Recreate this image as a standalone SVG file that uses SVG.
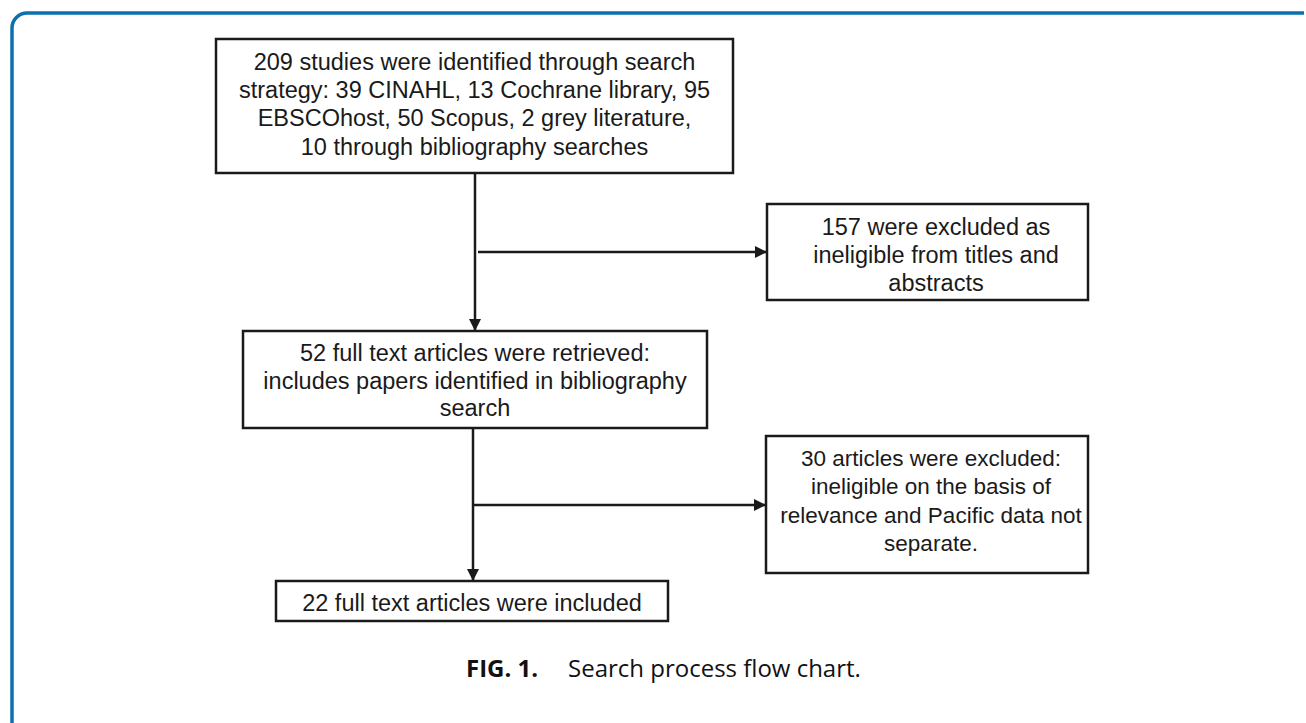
<svg xmlns="http://www.w3.org/2000/svg" width="1306" height="723" viewBox="0 0 1306 723">
<style>
.box{fill:#fff;stroke:#1a1a1a;stroke-width:2.5}
.t{font-family:"Liberation Sans",Arial,sans-serif;font-size:23.5px;fill:#1a1a1a;text-anchor:middle}
.ln{fill:none;stroke:#1a1a1a;stroke-width:2.5}
.cap{font-family:"Open Sans","Noto Sans",sans-serif;font-size:24px;fill:#111}
</style>
<defs>
<marker id="ah" markerWidth="12" markerHeight="12" refX="11" refY="6" orient="auto" markerUnits="userSpaceOnUse" viewBox="0 0 12 12">
<path d="M0,0 L12,6 L0,12 z" fill="#1a1a1a"/>
</marker>
</defs>
<rect width="1306" height="723" fill="#fff"/>
<path d="M12,730 L12,28 A15,15 0 0 1 27,13 L1304,13" fill="none" stroke="#0a71ae" stroke-width="3.5"/>
<g id="connectors">
<line class="ln" x1="475" y1="173" x2="475" y2="330" marker-end="url(#ah)"/>
<line class="ln" x1="478" y1="252" x2="766" y2="252" marker-end="url(#ah)"/>
<line class="ln" x1="473" y1="428" x2="473" y2="580" marker-end="url(#ah)"/>
<line class="ln" x1="473" y1="505" x2="765" y2="505" marker-end="url(#ah)"/>
</g>
<g id="n1">
<rect class="box" x="216" y="39" width="517" height="134"/>
<text class="t" x="474.5" y="70">209 studies were identified through search</text>
<text class="t" x="474.5" y="98">strategy: 39 CINAHL, 13 Cochrane library, 95</text>
<text class="t" x="474.5" y="126">EBSCOhost, 50 Scopus, 2 grey literature,</text>
<text class="t" x="474.5" y="155">10 through bibliography searches</text>
</g>
<g id="n2">
<rect class="box" x="767" y="204" width="321" height="96"/>
<text class="t" x="936" y="235">157 were excluded as</text>
<text class="t" x="936" y="263">ineligible from titles and</text>
<text class="t" x="936" y="291">abstracts</text>
</g>
<g id="n3">
<rect class="box" x="243" y="331" width="464" height="97"/>
<text class="t" x="475" y="361">52 full text articles were retrieved:</text>
<text class="t" x="475" y="389">includes papers identified in bibliography</text>
<text class="t" x="475" y="416">search</text>
</g>
<g id="n4">
<rect class="box" x="766" y="436" width="322" height="137"/>
<text class="t" x="931" y="466" style="font-size:22.5px">30 articles were excluded:</text>
<text class="t" x="931" y="494" style="font-size:22.5px">ineligible on the basis of</text>
<text class="t" x="931" y="523" style="font-size:22.5px">relevance and Pacific data not</text>
<text class="t" x="931" y="551" style="font-size:22.5px">separate.</text>
</g>
<g id="n5">
<rect class="box" x="276" y="581" width="392" height="40"/>
<text class="t" x="472" y="611">22 full text articles were included</text>
</g>
<text class="cap" x="466" y="677"><tspan font-weight="bold">FIG. 1.</tspan><tspan x="568">Search process flow chart.</tspan></text>
</svg>
